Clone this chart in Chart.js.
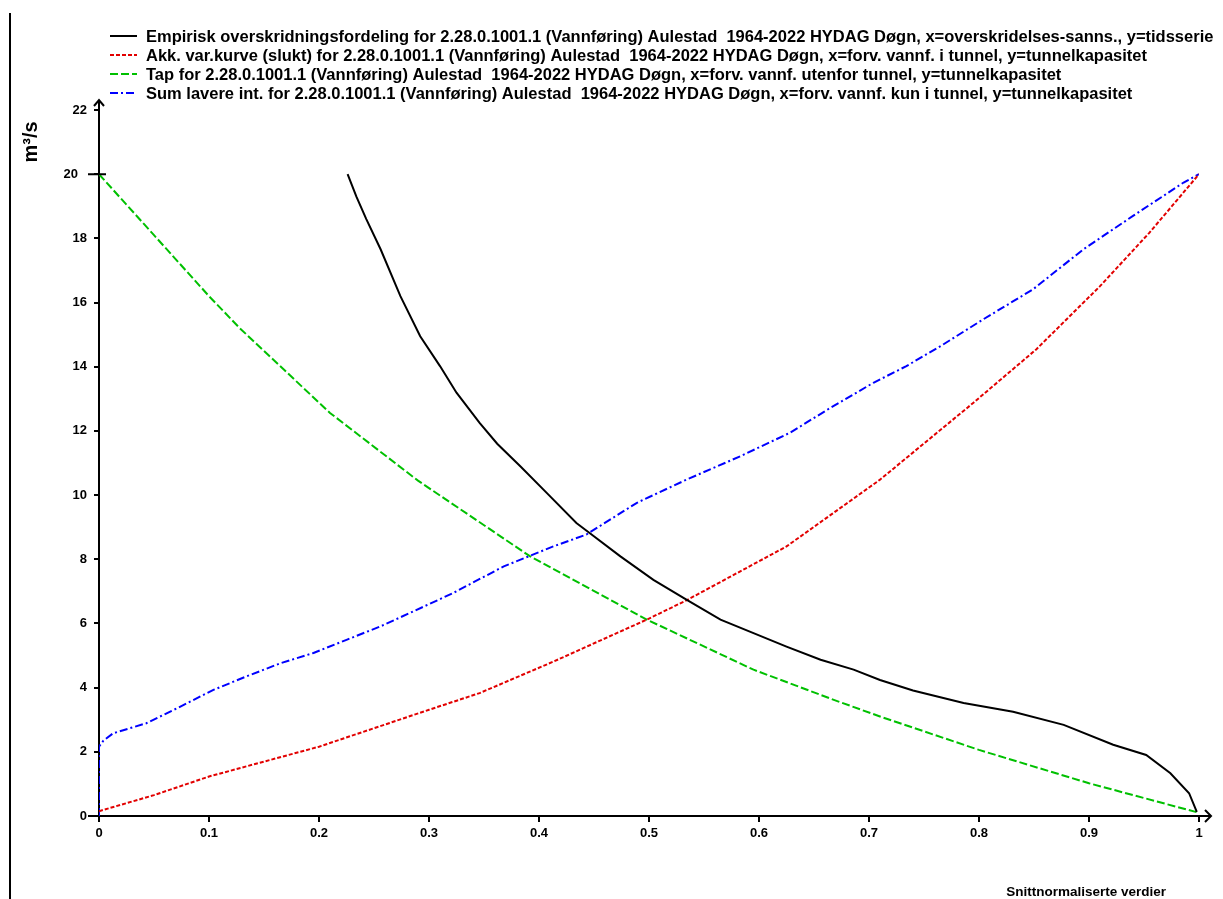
<!DOCTYPE html>
<html>
<head>
<meta charset="utf-8">
<title>Aulestad tunnelkapasitet</title>
<script src="https://cdn.jsdelivr.net/npm/chart.js@4.4.1/dist/chart.umd.min.js"></script>
<style>
  html, body { margin: 0; padding: 0; background: #fff; }
  #wrap { width: 1223px; height: 899px; }
</style>
</head>
<body>
<div id="wrap"><canvas id="canvas-1" width="1223" height="899"></canvas></div>
<script>
// Empirisk overskridningsfordeling (x = sannsynlighet, y = m3/s)
var exceedX = [0.226, 0.234, 0.243, 0.256, 0.274, 0.292, 0.310, 0.325, 0.346, 0.362, 0.383, 0.407,
               0.434, 0.446, 0.474, 0.504, 0.534, 0.565, 0.595, 0.625, 0.656, 0.686, 0.710, 0.740,
               0.786, 0.831, 0.877, 0.922, 0.952, 0.974, 0.991, 0.998];
var exceedY = [20.0, 19.3, 18.6, 17.66, 16.2, 14.95, 14.02, 13.19, 12.25, 11.6, 10.9, 10.07,
               9.13, 8.82, 8.09, 7.36, 6.74, 6.12, 5.70, 5.28, 4.87, 4.56, 4.24, 3.91,
               3.52, 3.25, 2.84, 2.22, 1.90, 1.33, 0.71, 0.13];

// Akk. var.kurve (slukt)
var accX = [0, 0.05, 0.1, 0.2, 0.3, 0.346, 0.413, 0.498, 0.534, 0.625, 0.71, 0.795, 0.852, 0.91, 0.955, 1.0];
var accY = [0.15, 0.65, 1.23, 2.16, 3.31, 3.83, 4.81, 6.12, 6.72, 8.40, 10.48, 12.88, 14.54, 16.51, 18.18, 20.0];

// Tap
var lossX = [0, 0.05, 0.1, 0.128, 0.21, 0.29, 0.392, 0.498, 0.595, 0.668, 0.71, 0.80, 0.90, 1.0];
var lossY = [20, 18.1, 16.2, 15.2, 12.56, 10.45, 8.09, 6.12, 4.56, 3.62, 3.10, 2.06, 1.02, 0.1];

// Sum lavere int.
var sumX = [0, 0, 0.004, 0.013, 0.043, 0.074, 0.104, 0.134, 0.165, 0.195, 0.225, 0.256, 0.30, 0.322,
            0.368, 0.413, 0.443, 0.489, 0.534, 0.583, 0.628, 0.665, 0.704, 0.734, 0.765, 0.804,
            0.849, 0.895, 0.94, 0.986, 1.0];
var sumY = [0, 2.16, 2.35, 2.58, 2.89, 3.41, 3.93, 4.35, 4.76, 5.08, 5.49, 5.91, 6.6, 6.95,
            7.78, 8.40, 8.77, 9.76, 10.48, 11.21, 11.94, 12.72, 13.50, 14.02, 14.64, 15.48,
            16.41, 17.66, 18.70, 19.74, 20.0];

var tunnelCapacity = 20;

var seriesLabels = [
  'Empirisk overskridningsfordeling for 2.28.0.1001.1 (Vannføring) Aulestad  1964-2022 HYDAG Døgn, x=overskridelses-sanns., y=tidsserie',
  'Akk. var.kurve (slukt) for 2.28.0.1001.1 (Vannføring) Aulestad  1964-2022 HYDAG Døgn, x=forv. vannf. i tunnel, y=tunnelkapasitet',
  'Tap for 2.28.0.1001.1 (Vannføring) Aulestad  1964-2022 HYDAG Døgn, x=forv. vannf. utenfor tunnel, y=tunnelkapasitet',
  'Sum lavere int. for 2.28.0.1001.1 (Vannføring) Aulestad  1964-2022 HYDAG Døgn, x=forv. vannf. kun i tunnel, y=tunnelkapasitet'
];
var yTitle = 'm³/s';
var xTitle = 'Snittnormaliserte verdier';

function pts(xs, ys) {
  return xs.map(function (x, i) { return {x: x, y: ys[i]}; });
}

var FONT = '"Liberation Sans", Arial, Helvetica, sans-serif';

// legend, axis titles, arrow heads and the frame line
var decorations = {
  id: 'decorations',
  afterDraw: function (chart) {
    var ctx = chart.ctx;
    var xs = chart.scales.x, ys = chart.scales.y;
    var x0 = xs.getPixelForValue(0), x1 = xs.getPixelForValue(1);
    var y0 = ys.getPixelForValue(0), yTop = ys.getPixelForValue(22);
    var yCap = ys.getPixelForValue(tunnelCapacity);
    ctx.save();

    // frame line on the left
    ctx.strokeStyle = '#000';
    ctx.lineWidth = 2;
    ctx.beginPath();
    ctx.moveTo(10, 13);
    ctx.lineTo(10, chart.height);
    ctx.stroke();

    // axis extensions + arrows
    ctx.beginPath();
    ctx.moveTo(x0, yTop);
    ctx.lineTo(x0, yTop - 10);
    ctx.moveTo(x0 - 5, yTop - 4);
    ctx.lineTo(x0, yTop - 10);
    ctx.lineTo(x0 + 5, yTop - 4);
    ctx.moveTo(x0 - 11, y0);
    ctx.lineTo(x0, y0);
    ctx.moveTo(x1, y0);
    ctx.lineTo(x1 + 12, y0);
    ctx.moveTo(x1 + 6, y0 - 6);
    ctx.lineTo(x1 + 12, y0);
    ctx.lineTo(x1 + 6, y0 + 6);
    // capacity mark across the y axis
    ctx.moveTo(x0 - 11, yCap);
    ctx.lineTo(x0 + 7, yCap);
    ctx.stroke();

    // legend
    ctx.font = 'bold 16.5px ' + FONT;
    ctx.textBaseline = 'middle';
    ctx.textAlign = 'left';
    chart.data.datasets.forEach(function (ds, i) {
      var ly = 36 + i * 19;
      ctx.strokeStyle = ds.borderColor;
      ctx.lineWidth = 2;
      ctx.setLineDash(ds.borderDash || []);
      ctx.beginPath();
      ctx.moveTo(110, ly);
      ctx.lineTo(137, ly);
      ctx.stroke();
      ctx.setLineDash([]);
      ctx.fillStyle = '#000';
      ctx.fillText(ds.label, 146, ly + 1);
    });

    // y title (rotated)
    ctx.save();
    ctx.translate(31, 142);
    ctx.rotate(-Math.PI / 2);
    ctx.textAlign = 'center';
    ctx.font = 'bold 20px ' + FONT;
    ctx.fillText(yTitle, 0, 0);
    ctx.restore();

    // x title
    ctx.textAlign = 'right';
    ctx.font = 'bold 13.5px ' + FONT;
    ctx.fillText(xTitle, 1166, 892);

    ctx.restore();
  }
};

Chart.defaults.color = '#000';
Chart.defaults.font.family = FONT;

var ctx = document.getElementById('canvas-1');
var chart = new Chart(ctx, {
  type: 'line',
  data: {
    datasets: [
      {
        label: seriesLabels[0],
        data: pts(exceedX, exceedY),
        borderColor: '#000000',
        borderWidth: 2
      },
      {
        label: seriesLabels[1],
        data: pts(accX, accY),
        borderColor: '#e20000',
        borderWidth: 2,
        borderDash: [4, 2]
      },
      {
        label: seriesLabels[2],
        data: pts(lossX, lossY),
        borderColor: '#00c000',
        borderWidth: 2,
        borderDash: [8, 3]
      },
      {
        label: seriesLabels[3],
        data: pts(sumX, sumY),
        borderColor: '#0000ff',
        borderWidth: 2,
        borderDash: [8, 3, 2, 3]
      }
    ]
  },
  options: {
    responsive: false,
    animation: false,
    locale: 'en-US',
    layout: { padding: { left: 0, top: 110, right: 24, bottom: 0 } },
    elements: { point: { radius: 0 }, line: { tension: 0, fill: false } },
    plugins: {
      legend: { display: false },
      tooltip: { enabled: false }
    },
    scales: {
      x: {
        type: 'linear',
        min: 0,
        max: 1,
        border: { display: true, color: '#000', width: 2 },
        grid: { drawOnChartArea: false, drawTicks: true, tickLength: 6, color: '#000', lineWidth: 2 },
        ticks: {
          stepSize: 0.1, padding: 4, maxRotation: 0, font: { size: 13, weight: 'bold' },
          callback: function (v) { return String(Number(v.toFixed(1))); }
        },
        afterFit: function (scale) { scale.height = 83; }
      },
      y: {
        type: 'linear',
        min: 0,
        max: 22,
        border: { display: true, color: '#000', width: 2 },
        grid: { drawOnChartArea: false, drawTicks: true, tickLength: 5, color: '#000', lineWidth: 2 },
        ticks: {
          stepSize: 2, padding: 7, font: { size: 13, weight: 'bold' },
          // the capacity label sits left of its longer mark
          callback: function (v) { return v === tunnelCapacity ? v + '\u2002\u2009' : String(v); }
        },
        afterFit: function (scale) { scale.width = 99; }
      }
    }
  },
  plugins: [decorations]
});
</script>
</body>
</html>
